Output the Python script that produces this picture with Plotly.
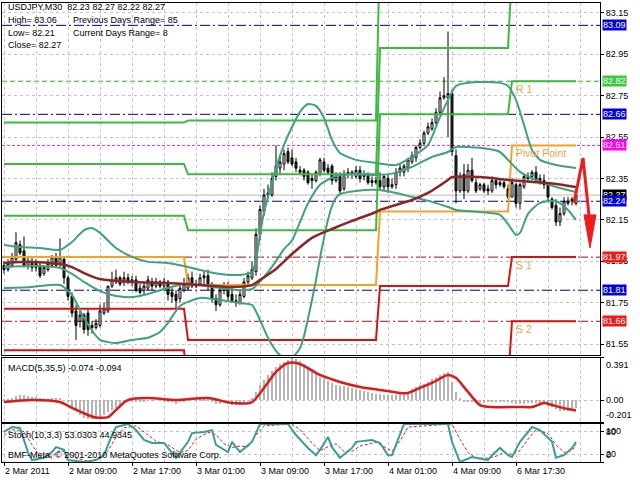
import plotly.graph_objects as go

# ---------------- USDJPY M30 bars ----------------
bar_open = [
    81.93, 81.91, 81.93, 81.96, 82.03, 82.00, 81.93, 81.94, 81.92, 81.93,
    81.89, 81.91, 81.93, 81.97, 81.94, 81.96, 81.87, 81.78, 81.71, 81.66,
    81.69, 81.70, 81.64, 81.63, 81.64, 81.70, 81.71, 81.83, 81.85, 81.87,
    81.85, 81.87, 81.85, 81.86, 81.82, 81.81, 81.82, 81.85, 81.83, 81.85,
    81.83, 81.85, 81.80, 81.79, 81.77, 81.81, 81.82, 81.87, 81.84, 81.84,
    81.87, 81.88, 81.83, 81.77, 81.74, 81.81, 81.83, 81.79, 81.76, 81.75,
    81.78, 81.85, 81.87, 81.90, 82.08, 82.19, 82.27, 82.27, 82.36, 82.40,
    82.42, 82.48, 82.45, 82.43, 82.39, 82.39, 82.38, 82.35, 82.34, 82.37,
    82.43, 82.40, 82.41, 82.34, 82.36, 82.30, 82.37, 82.38, 82.36, 82.39,
    82.36, 82.37, 82.34, 82.33, 82.34, 82.31, 82.35, 82.31, 82.32, 82.38,
    82.38, 82.40, 82.43, 82.45, 82.50, 82.52, 82.57, 82.59, 82.62, 82.67,
    82.74, 82.74, 82.76, 82.46, 82.29, 82.37, 82.29, 82.39, 82.33, 82.30,
    82.32, 82.30, 82.29, 82.34, 82.32, 82.33, 82.30, 82.26, 82.32, 82.23,
    82.31, 82.35, 82.36, 82.38, 82.35, 82.34, 82.32, 82.25, 82.22, 82.14,
    82.18, 82.23, 82.24, 82.23]
bar_high = [
    81.95, 81.96, 81.99, 82.09, 82.05, 82.07, 81.97, 81.97, 81.96, 81.95,
    81.93, 81.96, 81.98, 81.99, 82.06, 81.97, 81.88, 81.80, 81.74, 81.71,
    81.70, 81.72, 81.66, 81.67, 81.74, 81.75, 81.83, 81.90, 81.91, 81.88,
    81.90, 81.89, 81.88, 81.88, 81.84, 81.85, 81.88, 81.87, 81.87, 81.86,
    81.87, 81.86, 81.82, 81.81, 81.84, 81.87, 81.89, 81.90, 81.86, 81.89,
    81.90, 81.91, 81.85, 81.79, 81.83, 81.85, 81.85, 81.82, 81.79, 81.81,
    81.87, 81.90, 81.95, 82.11, 82.22, 82.30, 82.32, 82.38, 82.51, 82.46,
    82.49, 82.50, 82.49, 82.45, 82.41, 82.40, 82.39, 82.37, 82.39, 82.45,
    82.45, 82.42, 82.42, 82.38, 82.38, 82.39, 82.40, 82.39, 82.41, 82.41,
    82.39, 82.38, 82.36, 82.36, 82.38, 82.37, 82.37, 82.35, 82.40, 82.42,
    82.42, 82.45, 82.48, 82.51, 82.54, 82.58, 82.62, 82.64, 82.69, 82.77,
    82.84, 83.06, 82.78, 82.49, 82.38, 82.42, 82.42, 82.45, 82.35, 82.33,
    82.33, 82.32, 82.36, 82.35, 82.35, 82.34, 82.32, 82.35, 82.33, 82.33,
    82.37, 82.38, 82.39, 82.41, 82.37, 82.37, 82.33, 82.26, 82.25, 82.21,
    82.26, 82.26, 82.26, 82.27]
bar_low = [
    81.89, 81.90, 81.92, 81.95, 81.98, 81.92, 81.91, 81.90, 81.90, 81.87,
    81.88, 81.90, 81.92, 81.92, 81.92, 81.84, 81.76, 81.68, 81.57, 81.63,
    81.60, 81.59, 81.60, 81.62, 81.63, 81.69, 81.70, 81.82, 81.84, 81.83,
    81.83, 81.84, 81.83, 81.80, 81.79, 81.79, 81.81, 81.81, 81.82, 81.82,
    81.81, 81.76, 81.75, 81.72, 81.75, 81.80, 81.81, 81.82, 81.82, 81.83,
    81.83, 81.81, 81.75, 81.71, 81.73, 81.79, 81.76, 81.75, 81.73, 81.74,
    81.77, 81.83, 81.86, 81.88, 82.05, 82.17, 82.25, 82.26, 82.34, 82.37,
    82.39, 82.42, 82.41, 82.38, 82.37, 82.34, 82.32, 82.30, 82.33, 82.36,
    82.38, 82.37, 82.32, 82.33, 82.28, 82.29, 82.35, 82.35, 82.35, 82.33,
    82.34, 82.32, 82.31, 82.32, 82.29, 82.29, 82.28, 82.30, 82.30, 82.36,
    82.36, 82.38, 82.42, 82.43, 82.49, 82.51, 82.56, 82.58, 82.61, 82.66,
    82.73, 82.55, 82.46, 82.23, 82.28, 82.25, 82.28, 82.33, 82.28, 82.29,
    82.28, 82.27, 82.28, 82.30, 82.31, 82.30, 82.25, 82.26, 82.21, 82.20,
    82.30, 82.33, 82.34, 82.33, 82.32, 82.30, 82.24, 82.20, 82.12, 82.12,
    82.17, 82.22, 82.22, 82.22]
bar_close = [
    81.91, 81.94, 81.97, 82.04, 81.99, 81.93, 81.95, 81.92, 81.94, 81.88,
    81.92, 81.94, 81.97, 81.93, 81.97, 81.87, 81.78, 81.70, 81.64, 81.69,
    81.62, 81.62, 81.63, 81.65, 81.71, 81.72, 81.83, 81.86, 81.87, 81.84,
    81.87, 81.85, 81.86, 81.81, 81.80, 81.83, 81.86, 81.83, 81.85, 81.83,
    81.85, 81.79, 81.78, 81.76, 81.82, 81.84, 81.87, 81.83, 81.83, 81.87,
    81.88, 81.83, 81.77, 81.74, 81.81, 81.83, 81.78, 81.76, 81.75, 81.79,
    81.85, 81.88, 81.91, 82.08, 82.20, 82.27, 82.28, 82.35, 82.41, 82.43,
    82.47, 82.43, 82.42, 82.40, 82.38, 82.36, 82.33, 82.34, 82.38, 82.44,
    82.39, 82.38, 82.34, 82.36, 82.29, 82.37, 82.38, 82.37, 82.39, 82.35,
    82.37, 82.33, 82.33, 82.34, 82.31, 82.36, 82.31, 82.32, 82.38, 82.40,
    82.41, 82.44, 82.46, 82.50, 82.52, 82.57, 82.60, 82.62, 82.67, 82.74,
    82.75, 82.76, 82.48, 82.29, 82.36, 82.29, 82.39, 82.34, 82.29, 82.32,
    82.29, 82.29, 82.34, 82.32, 82.33, 82.31, 82.26, 82.33, 82.23, 82.32,
    82.36, 82.36, 82.38, 82.34, 82.34, 82.32, 82.26, 82.21, 82.14, 82.18,
    82.24, 82.24, 82.25, 82.27]
bar_index = list(range(len(bar_close)))

time_label_bars = [0, 16, 32, 48, 64, 80, 96, 112, 128]
time_labels = ["2 Mar 2011", "2 Mar 09:00", "2 Mar 17:00", "3 Mar 01:00",
               "3 Mar 09:00", "3 Mar 17:00", "4 Mar 01:00", "4 Mar 09:00",
               "6 Mar 17:30"]
price_ticks = [81.55, 81.75, 81.95, 82.15, 82.35, 82.55, 82.75, 82.95, 83.15]

# ---------------- daily pivot levels ----------------
day_start = [0, 46, 94, 127]
day_end = [45, 93, 126, 143]
pivot_r3 = [82.62, 82.63, 83.49, 83.66]
pivot_r2 = [82.42, 82.37, 82.98, 83.36]
pivot_r1 = [82.17, 82.10, 82.66, 82.82]
pivot_pp = [81.97, 81.835, 82.19, 82.51]
pivot_s1 = [81.72, 81.57, 81.83, 81.97]
pivot_s2 = [81.52, 81.31, 81.36, 81.66]

# ---------------- horizontal price levels ----------------
level_prices = [83.09, 82.82, 82.66, 82.51, 82.27, 82.24, 81.97, 81.81, 81.66]
level_kinds = ["blue", "green", "blue", "magenta", "bid", "blue", "red", "blue", "red"]

# ---------------- moving average ----------------
ma_bar = [0, 7, 14, 17, 20, 24, 32, 41, 49, 56, 62, 64, 68, 72, 77, 82, 87, 93,
          94, 102, 106, 111, 112, 119, 126, 136, 143]
ma_val = [81.942, 81.947, 81.937, 81.922, 81.893, 81.864, 81.850, 81.845, 81.835,
          81.826, 81.835, 81.860, 81.913, 81.985, 82.063, 82.106, 82.145, 82.188,
          82.198, 82.246, 82.280, 82.343, 82.357, 82.357, 82.343, 82.328, 82.309]

# ---------------- Bollinger bands ----------------
bb_up_bar = [0, 4, 9, 14, 17, 20, 22, 24, 28, 32, 36, 41, 45, 49, 54, 59, 62, 63, 64, 65,
             66, 67, 68, 70, 72, 74, 76, 78, 80, 82, 84, 88, 93, 98, 102, 106, 109, 111,
             113, 118, 124, 126, 128, 130, 132, 134, 138, 143]
bb_up = [82.029, 82.019, 82.014, 82.005, 82.043, 82.101, 82.111, 82.087, 82.014, 81.971,
         81.947, 81.942, 81.927, 81.908, 81.889, 81.884, 81.898, 81.956, 82.077, 82.188,
         82.261, 82.333, 82.401, 82.512, 82.599, 82.672, 82.710, 82.701, 82.643, 82.536,
         82.473, 82.440, 82.425, 82.415, 82.454, 82.512, 82.647, 82.730, 82.797, 82.816,
         82.812, 82.797, 82.730, 82.609, 82.488, 82.440, 82.415, 82.401]
bb_mid_bar = [0, 7, 14, 17, 20, 24, 28, 32, 36, 41, 45, 49, 54, 59, 62, 64, 66, 68, 70, 72,
              74, 76, 79, 83, 88, 93, 98, 102, 107, 111, 113, 119, 124, 126, 129, 133, 138, 143]
bb_mid = [81.922, 81.927, 81.918, 81.889, 81.850, 81.806, 81.782, 81.777, 81.792, 81.821,
          81.840, 81.835, 81.821, 81.811, 81.816, 81.852, 81.898, 81.951, 82.009, 82.050,
          82.140, 82.230, 82.320, 82.362, 82.372, 82.367, 82.377, 82.406, 82.454, 82.478,
          82.502, 82.498, 82.478, 82.440, 82.382, 82.343, 82.309, 82.285]
bb_low_bar = [0, 7, 14, 17, 20, 24, 28, 32, 36, 39, 41, 44, 49, 54, 59, 62, 64, 66, 68, 70,
              72, 74, 75, 77, 78, 79, 80, 81, 82, 83, 84, 88, 93, 98, 102, 107, 111, 113,
              119, 124, 126, 128, 129, 131, 134, 138, 141, 143]
bb_low = [81.821, 81.826, 81.835, 81.787, 81.676, 81.570, 81.555, 81.570, 81.580, 81.608,
          81.652, 81.734, 81.773, 81.763, 81.748, 81.739, 81.666, 81.580, 81.517, 81.483,
          81.483, 81.531, 81.589, 81.763, 81.860, 81.966, 82.063, 82.150, 82.217, 82.256,
          82.275, 82.290, 82.295, 82.280, 82.261, 82.237, 82.212, 82.198, 82.188, 82.174,
          82.130, 82.077, 82.087, 82.179, 82.232, 82.241, 82.198, 82.150]

# ---------------- MACD(5,35,5) ----------------
macd_hist = [
    0.01, 0.015, 0.02, 0.04, 0.05, 0.045, 0.04, 0.035, 0.03, 0.02, 0.015, 0.015, 0.02, 0.02, 0.025,
    0.0, -0.02, -0.06, -0.10, -0.14, -0.16, -0.175, -0.175, -0.17, -0.155, -0.135, -0.11, -0.09,
    -0.07, -0.045, -0.025, -0.01, -0.005,
    -0.01, -0.015, -0.01, 0.0, -0.005, 0.0, 0.0, 0.005, -0.01, -0.02, -0.03, -0.02, -0.01, 0.0,
    0.0, 0.005, 0.01, 0.015, 0.005, -0.015, -0.03, -0.03, -0.025, -0.03, -0.04, -0.045, -0.04,
    -0.025, -0.005,
    0.02, 0.08, 0.14, 0.19, 0.23, 0.27, 0.31, 0.335, 0.355, 0.375, 0.391,
    0.38, 0.36, 0.34, 0.31, 0.28, 0.25, 0.22, 0.195, 0.175, 0.16, 0.145, 0.135, 0.13, 0.12, 0.115,
    0.105, 0.095, 0.085, 0.077, 0.07, 0.062, 0.056, 0.052,
    0.05, 0.048, 0.05, 0.055, 0.065, 0.08, 0.1, 0.12, 0.14, 0.155, 0.17, 0.195, 0.22, 0.235, 0.25,
    0.265,
    0.17, 0.08, 0.02, -0.01, -0.016, -0.02, -0.025, -0.025, -0.025, -0.02, -0.02, -0.018, -0.016,
    -0.016, -0.02, -0.025, -0.03, -0.03, -0.03, -0.028, -0.025, -0.025, -0.03, -0.035, -0.05,
    -0.065, -0.08, -0.095, -0.1, -0.095, -0.085, -0.074]
macd_sig_bar = [0, 7, 14, 17, 21, 23, 26, 28, 31, 36, 43, 51, 57, 62, 65, 68, 71, 74, 79, 84,
                89, 94, 99, 101, 104, 107, 111, 113, 116, 119, 122, 129, 132, 135, 137, 141, 143]
macd_sig = [-0.016, 0.003, -0.016, -0.071, -0.136, -0.160, -0.155, -0.090, 0.003, 0.021,
            0.003, 0.021, -0.025, -0.016, 0.114, 0.262, 0.345, 0.336, 0.234, 0.169,
            0.123, 0.095, 0.068, 0.068, 0.114, 0.160, 0.234, 0.206, 0.077, -0.044,
            -0.062, -0.062, -0.062, -0.025, -0.044, -0.081, -0.094]
macd_ticks = [0.391, 0.0, -0.201]

# ---------------- Stochastic(10,3,3) ----------------
stoch_bar = [0, 2, 4, 6, 7, 10, 12, 13, 15, 16, 20, 23, 25, 27, 28, 31, 33, 35, 37, 40,
             42, 43, 46, 47, 50, 52, 53, 56, 57, 59, 62, 64, 67, 71, 73, 76, 78, 79, 81, 82,
             84, 87, 88, 92, 94, 96, 97, 100, 111, 112, 114, 117, 121, 122, 124, 126, 127,
             129, 132, 134, 137, 138, 140, 142, 143]
stoch_main = [79, 92, 89, 26, 5, 11, 26, 39, 32, 5, 0, 5, 18, 71, 92, 100, 84, 58, 50, 50,
              24, 11, 53, 76, 79, 84, 45, 26, 53, 26, 53, 100, 100, 100, 71, 37, 18, 32, 66, 39,
              11, 37, 53, 58, 50, 18, 18, 100, 100, 53, 0, 13, 5, 18, 37, 18, 13,
              53, 92, 84, 53, 11, 18, 37, 53.0303]
stoch_sig_bar = [0, 2, 5, 7, 9, 12, 14, 16, 18, 21, 24, 26, 28, 30, 33, 35, 38, 41, 44, 46,
                 48, 51, 53, 55, 57, 59, 61, 63, 65, 72, 74, 77, 79, 81, 83, 85, 87, 89, 93, 95,
                 97, 99, 101, 112, 114, 116, 118, 121, 123, 125, 127, 129, 131, 133, 136, 138,
                 140, 142, 143]
stoch_sig = [70, 85, 80, 45, 15, 15, 30, 25, 10, 2, 8, 30, 65, 90, 95, 78, 55, 45, 25, 30,
             60, 78, 72, 48, 38, 42, 40, 70, 95, 100, 85, 50, 30, 40, 48, 28, 28, 42, 52, 40,
             28, 55, 92, 100, 60, 25, 10, 10, 15, 25, 20, 30, 60, 85, 75, 45, 25, 30, 44.9345]

# ---------------- hand-drawn projection arrow ----------------
arrow_path_bar = [142.5, 144.75, 146.5]
arrow_path_price = [82.232, 82.449, 82.125]
arrow_head_bar = [145.0, 148.0, 146.5, 145.0]
arrow_head_price = [82.174, 82.174, 82.014, 82.174]

# =====================================================================
FONT = "Liberation Sans, Arial, sans-serif"
W, H = 640, 480
ML, MR, MT, MB = 2, 40, 3, 18
PW, PH = W - ML - MR, H - MT - MB


def px(x_pix):
    return (x_pix - ML) / PW


def py(y_pix):
    return 1 - (y_pix - MT) / PH


GRID = "#c4c4c4"
GREEN = "#3fb83f"
ORANGE = "#f0a428"
RED = "#d41414"
BAND = "#3fa27c"
MA_COL = "#8c2626"

fig = go.Figure()


def steps(levels):
    xs, ys = [], []
    for s, e, v in zip(day_start, day_end, levels):
        xs += [s, e]
        ys += [v, v]
    return xs, ys


for lv, col in [(pivot_r3, GREEN), (pivot_r2, GREEN), (pivot_r1, GREEN),
                (pivot_s2, RED), (pivot_s1, RED), (pivot_pp, ORANGE)]:
    sx, sy = steps(lv)
    fig.add_trace(go.Scatter(x=sx, y=sy, mode="lines", line=dict(color=col, width=2),
                             hoverinfo="skip", xaxis="x", yaxis="y"))

for bx, by in [(bb_up_bar, bb_up), (bb_mid_bar, bb_mid), (bb_low_bar, bb_low)]:
    fig.add_trace(go.Scatter(x=bx, y=by, mode="lines",
                             line=dict(color=BAND, width=2, shape="spline", smoothing=0.6),
                             hoverinfo="skip", xaxis="x", yaxis="y"))

fig.add_trace(go.Scatter(x=ma_bar, y=ma_val, mode="lines",
                         line=dict(color=MA_COL, width=2.5, shape="spline", smoothing=0.6),
                         hoverinfo="skip", xaxis="x", yaxis="y"))

fig.add_trace(go.Candlestick(
    x=bar_index, open=bar_open, high=bar_high, low=bar_low, close=bar_close,
    increasing=dict(fillcolor="white", line=dict(color="black", width=1)),
    decreasing=dict(fillcolor="#1d3a1d", line=dict(color="black", width=1)),
    whiskerwidth=0, hoverinfo="skip", xaxis="x", yaxis="y"))

fig.add_trace(go.Scatter(x=arrow_path_bar, y=arrow_path_price, mode="lines",
                         line=dict(color="#ee1c1c", width=3), hoverinfo="skip",
                         xaxis="x", yaxis="y"))
fig.add_trace(go.Scatter(x=arrow_head_bar, y=arrow_head_price, mode="lines", fill="toself",
                         fillcolor="#ee1c1c", line=dict(color="#ee1c1c", width=1),
                         hoverinfo="skip", xaxis="x", yaxis="y"))

# MACD
fig.add_trace(go.Bar(x=bar_index, y=macd_hist, width=0.5, marker=dict(color="#b4b4b4", line=dict(width=0)),
                     hoverinfo="skip", xaxis="x2", yaxis="y2"))
fig.add_trace(go.Scatter(x=macd_sig_bar, y=macd_sig, mode="lines",
                         line=dict(color="#d81c1c", width=2.5, shape="spline", smoothing=0.7),
                         hoverinfo="skip", xaxis="x2", yaxis="y2"))

# Stochastic
fig.add_trace(go.Scatter(x=stoch_sig_bar, y=stoch_sig, mode="lines",
                         line=dict(color="#d82020", width=1, dash="3px,2px"),
                         hoverinfo="skip", xaxis="x3", yaxis="y3"))
fig.add_trace(go.Scatter(x=stoch_bar, y=stoch_main, mode="lines",
                         line=dict(color="#3a9c9c", width=2),
                         hoverinfo="skip", xaxis="x3", yaxis="y3"))

# horizontal price levels
line_style = {
    "blue": ("#000080", "10px,3px,2px,3px"),
    "green": ("#2fa82f", "5px,3px"),
    "magenta": ("#c838c8", "3px,2px"),
    "bid": ("#b8b8b8", "solid"),
    "red": ("#a01010", "10px,3px,2px,3px"),
}
box_color = {"blue": "#0000e0", "green": "#3cc83c", "magenta": "#ff00ff",
             "bid": "#000000", "red": "#f01818"}
shapes = []
annotations = []
for p, k in zip(level_prices, level_kinds):
    col, dash = line_style[k]
    shapes.append(dict(type="line", xref="paper", x0=0, x1=1, yref="y", y0=p, y1=p,
                       line=dict(color=col, width=1, dash=dash), layer="between"))
for p, k in zip(level_prices, level_kinds):
    annotations.append(dict(xref="paper", x=1, xanchor="left", xshift=2, yref="y", y=p,
                            yanchor="middle", text=f"{p:.2f}", showarrow=False,
                            bgcolor=box_color[k], borderpad=0,
                            font=dict(family=FONT, size=9, color="white")))

# pivot names
for txt, lv in [("R 1", pivot_r1), ("Pivot Point", pivot_pp), ("S 1", pivot_s1), ("S 2", pivot_s2)]:
    annotations.append(dict(xref="x", x=day_start[-1] + 0.5, xanchor="left", yref="y", y=lv[-1],
                            yanchor="top", text=txt, showarrow=False,
                            font=dict(family=FONT, size=10.5, color="#e8a44c")))

# information text
info = [
    ("USDJPY,M30  82.23 82.27 82.22 82.27", 6, 7),
    ("High= 83.06", 6, 20),
    ("Previous Days Range= 85", 71, 20),
    ("Low= 82.21", 6, 33),
    ("Current Days Range= 8", 71, 33),
    ("Close= 82.27", 6, 45),
    ("MACD(5,35,5) -0.074 -0.094", 6, 368),
    ("Stoch(10,3,3) 53.0303 44.9345", 6, 435),
    ("BMF-Meta, \u00a9 2001-2010 MetaQuotes Software Corp.", 6, 455),
]
for txt, xx, yy in info:
    annotations.append(dict(xref="paper", yref="paper", x=px(xx), y=py(yy), xanchor="left",
                            yanchor="middle", text=txt, showarrow=False,
                            font=dict(family=FONT, size=9, color="black")))

# sub-window scale labels
for v, anc in [(0.391, "top"), (0.0, "middle"), (-0.201, "bottom")]:
    annotations.append(dict(xref="paper", x=1, xanchor="left", xshift=4, yref="y2", y=v,
                            yanchor=anc, text=f"{v:.3f}" if v != 0 else "0.00", showarrow=False,
                            font=dict(family=FONT, size=9, color="black")))
for v, anc in [(100, "top"), (80, "middle"), (20, "middle"), (0, "bottom")]:
    annotations.append(dict(xref="paper", x=1, xanchor="left", xshift=4, yref="y3", y=v,
                            yanchor=anc, text=str(v), showarrow=False,
                            font=dict(family=FONT, size=9, color="black")))

minor_vals = [b + 8 for b in time_label_bars] + [time_label_bars[-1] + 16]
xcommon = dict(range=[-0.5, 149], tickmode="array", tickvals=time_label_bars,
               showgrid=True, gridcolor=GRID, griddash="3px,3px", gridwidth=1,
               minor=dict(tickmode="array", tickvals=minor_vals, showgrid=True,
                          gridcolor=GRID, griddash="3px,3px", ticks=""),
               zeroline=False, showline=True, mirror=True, linecolor="black",
               linewidth=1, fixedrange=True)
ycommon = dict(side="right", showline=True, mirror=True, linecolor="black", linewidth=1,
               zeroline=False, showgrid=True, gridcolor=GRID, griddash="3px,3px",
               ticks="outside", ticklen=3, tickcolor="black", fixedrange=True,
               tickfont=dict(family=FONT, size=9, color="black"))

fig.update_layout(
    width=W, height=H, margin=dict(l=ML, r=MR, t=MT, b=MB),
    paper_bgcolor="white", plot_bgcolor="white", showlegend=False,
    font=dict(family=FONT, size=9, color="black"),
    xaxis=dict(**xcommon, anchor="y", showticklabels=False, ticks="",
               rangeslider=dict(visible=False)),
    xaxis2=dict(**xcommon, anchor="y2", showticklabels=False, ticks=""),
    xaxis3=dict(**xcommon, anchor="y3", ticktext=time_labels, showticklabels=True,
                ticks="outside", ticklen=3, tickcolor="black",
                ticklabelposition="outside right",
                tickfont=dict(family=FONT, size=9, color="black")),
    yaxis=dict(**ycommon, anchor="x", domain=[0.2331, 1], range=[81.497, 83.198],
               tickmode="array", tickvals=price_ticks,
               ticktext=[f"{t:.2f}" for t in price_ticks]),
    yaxis2=dict(**ycommon, anchor="x2", domain=[0.0871, 0.2266], range=[-0.201, 0.391],
                tickmode="array", tickvals=macd_ticks, showticklabels=False),
    yaxis3=dict(**ycommon, anchor="x3", domain=[0, 0.0828], range=[0, 100],
                tickmode="array", tickvals=[0, 20, 80, 100], showticklabels=False),
    shapes=shapes, annotations=annotations, bargap=0,
)

fig.write_html("out.html")
